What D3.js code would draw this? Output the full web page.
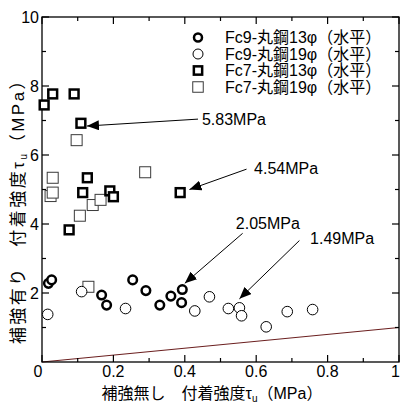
<!DOCTYPE html>
<html><head><meta charset="utf-8">
<script src="https://cdn.jsdelivr.net/npm/d3@7"></script>
<style>body{margin:0;background:#fff}text{font-family:"Liberation Sans",Arial,"Noto Sans CJK JP",sans-serif;fill:#000}</style>
</head><body><svg id="c" width="400" height="405"></svg>
<script>
// data: [無し τu, 有り τu]
const fc9_13 = [[0.018,2.28],[0.027,2.38],[0.167,1.94],[0.181,1.65],[0.254,2.38],[0.291,2.07],[0.330,1.65],[0.361,1.91],[0.393,2.10],[0.391,1.72]];
const fc9_19 = [[0.016,1.38],[0.111,2.04],[0.234,1.55],[0.428,1.48],[0.469,1.89],[0.522,1.55],[0.553,1.57],[0.559,1.34],[0.628,1.02],[0.687,1.46],[0.758,1.52]];
const fc7_13 = [[0.006,7.45],[0.030,7.77],[0.090,7.77],[0.109,6.92],[0.127,5.34],[0.114,4.91],[0.190,4.96],[0.200,4.79],[0.387,4.91],[0.076,3.83]];
const fc7_19 = [[0.097,6.43],[0.289,5.50],[0.030,5.34],[0.024,4.81],[0.030,4.91],[0.142,4.55],[0.164,4.70],[0.106,4.24],[0.130,2.18]];
const legendLabels = ["Fc9-丸鋼13φ（水平）","Fc9-丸鋼19φ（水平）","Fc7-丸鋼13φ（水平）","Fc7-丸鋼19φ（水平）"];
const xTicks = [0,0.2,0.4,0.6,0.8,1];
const xTickLabels = ["0","0.2","0.4","0.6","0.8","1"];
const yTicks = [2,4,6,8,10];
const yTickLabels = ["2","4","6","8","10"];
const annotations = [
  {label:"5.83MPa", tx:0.448, ty:7.04, x1:0.437, y1:7.04, x2:0.126, y2:6.84},
  {label:"4.54MPa", tx:0.594, ty:5.62, x1:0.573, y1:5.59, x2:0.413, y2:5.00},
  {label:"2.05MPa", tx:0.543, ty:4.03, x1:0.562, y1:3.73, x2:0.400, y2:2.28},
  {label:"1.49MPa", tx:0.751, ty:3.57, x1:0.721, y1:3.52, x2:0.553, y2:1.83}
];
const refLine = [[0,0],[1,1]];

const svg = d3.select("#c");
const L=42,R=399,T=17,B=362;
const x = d3.scaleLinear().domain([0,1]).range([L,R]);
const y = d3.scaleLinear().domain([0,10]).range([B,T]);

const defs = svg.append("defs");

// reference line
svg.append("path").attr("d",d3.line().x(d=>x(d[0])).y(d=>y(d[1]))(refLine))
  .attr("stroke","#6b1f1f").attr("stroke-width",1.2).attr("fill","none");

// frame
svg.append("rect").attr("x",L).attr("y",T).attr("width",R-L).attr("height",B-T).attr("fill","none").attr("stroke","#000").attr("stroke-width",1.3);

// ticks
const xMinor = d3.range(0.1,1,0.2);
const yMinor = d3.range(1,10,2);
const tk = svg.append("g").attr("stroke","#000").attr("stroke-width",1.2);
xTicks.forEach(v=>{tk.append("line").attr("x1",x(v)).attr("x2",x(v)).attr("y1",B).attr("y2",B-7);
  tk.append("line").attr("x1",x(v)).attr("x2",x(v)).attr("y1",T).attr("y2",T+7);});
xMinor.forEach(v=>{tk.append("line").attr("x1",x(v)).attr("x2",x(v)).attr("y1",B).attr("y2",B-4);
  tk.append("line").attr("x1",x(v)).attr("x2",x(v)).attr("y1",T).attr("y2",T+4);});
yTicks.forEach(v=>{tk.append("line").attr("y1",y(v)).attr("y2",y(v)).attr("x1",L).attr("x2",L+7);
  tk.append("line").attr("y1",y(v)).attr("y2",y(v)).attr("x1",R).attr("x2",R-7);});
yMinor.forEach(v=>{tk.append("line").attr("y1",y(v)).attr("y2",y(v)).attr("x1",L).attr("x2",L+4);
  tk.append("line").attr("y1",y(v)).attr("y2",y(v)).attr("x1",R).attr("x2",R-4);});

// tick labels
xTicks.forEach((v,i)=>svg.append("text")
  .attr("x",v===0?x(v)-4:(v===1?400:x(v)))
  .attr("y",B+15).attr("text-anchor",v===1?"end":"middle").attr("font-size",16).text(xTickLabels[i]));
yTicks.forEach((v,i)=>svg.append("text").attr("x",L-3).attr("y",y(v)).attr("dy","0.35em").attr("text-anchor","end").attr("font-size",16).text(yTickLabels[i]));

// marker drawing
const styles = [
  {data:fc9_13, shape:"circle", r:4.3, sw:2.5, stroke:"#000"},
  {data:fc9_19, shape:"circle", r:5.3, sw:1, stroke:"#000"},
  {data:fc7_13, shape:"square", s:8.8, sw:2.5, stroke:"#000"},
  {data:fc7_19, shape:"square", s:11, sw:1, stroke:"#3a3a3a"}
];
function drawMarker(g, st, cx, cy){
  if(st.shape==="circle") g.append("circle").attr("cx",cx).attr("cy",cy).attr("r",st.r).attr("fill","#fff").attr("stroke",st.stroke).attr("stroke-width",st.sw);
  else g.append("rect").attr("x",cx-st.s/2).attr("y",cy-st.s/2).attr("width",st.s).attr("height",st.s).attr("fill","#fff").attr("stroke",st.stroke).attr("stroke-width",st.sw);
}
const mg = svg.append("g");
[styles[3],styles[1],styles[2],styles[0]].forEach(st=>st.data.forEach(d=>drawMarker(mg,st,x(d[0]),y(d[1]))));

// annotations
defs.append("marker").attr("id","ah").attr("viewBox","0 0 12 10").attr("refX",12).attr("refY",5)
  .attr("markerWidth",12).attr("markerHeight",10).attr("markerUnits","userSpaceOnUse").attr("orient","auto")
  .append("path").attr("d","M0,0L12,5L0,10Z").attr("fill","#000");
annotations.forEach(a=>{
  svg.append("line").attr("x1",x(a.x1)).attr("y1",y(a.y1)).attr("x2",x(a.x2)).attr("y2",y(a.y2))
    .attr("stroke","#000").attr("stroke-width",1).attr("marker-end","url(#ah)");
  svg.append("text").attr("x",x(a.tx)).attr("y",y(a.ty)).attr("dy","0.35em").attr("font-size",16).text(a.label);
});

// legend
const legY = [37.5,54,70.5,87];
styles.forEach((st,i)=>{
  const ls = Object.assign({},st); if(st.shape==="circle") ls.r=st.r-0.3; else ls.s=st.s-0.5;
  drawMarker(svg,ls,198,legY[i]);
  svg.append("text").attr("x",225).attr("y",legY[i]).attr("dy","0.35em").attr("font-size",16).text(legendLabels[i]);
});

// axis titles
const xt = svg.append("text").attr("x",212).attr("y",399).attr("text-anchor","middle").attr("font-size",16);
xt.append("tspan").text("補強無し　付着強度τ");
xt.append("tspan").attr("font-size",10).attr("dy",3).text("u");
xt.append("tspan").attr("dy",-3).text("（MPa）");
const yt = svg.append("text").attr("transform","translate(24,207) rotate(-90)").attr("text-anchor","middle")
  .attr("font-size",17).attr("letter-spacing","2.5px");
yt.append("tspan").text("補強有り　付着強度τ");
yt.append("tspan").attr("font-size",10).attr("dy",3).text("u");
yt.append("tspan").attr("dy",-3).text("（MPa）");
</script></body></html>
